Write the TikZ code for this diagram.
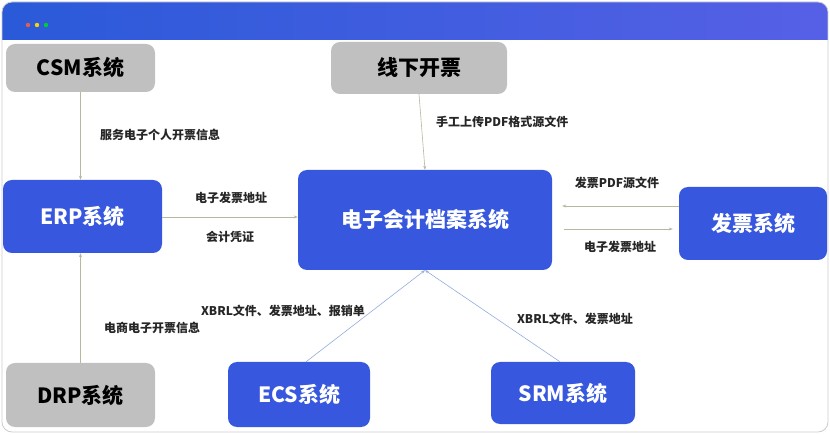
\documentclass[tikz,border=0pt]{standalone}
\usepackage{fontspec}
\newfontfamily\cjk{Noto Sans CJK SC}
\usepackage{xcolor}
\usetikzlibrary{arrows.meta, positioning}

\definecolor{sysblue}{HTML}{3758DE}
\definecolor{sysgray}{HTML}{C0C0C0}
\definecolor{flowline}{HTML}{B8B89E}
\definecolor{bluelink}{HTML}{94AEDD}
\definecolor{barleft}{HTML}{2A5AD8}
\definecolor{barright}{HTML}{5660E6}

\begin{document}
\begin{tikzpicture}[x=1pt, y=-1pt,
  bluebox/.style={rectangle, rounded corners=9pt, fill=sysblue, text=white,
    font=\cjk\bfseries\fontsize{21}{24}\selectfont, inner sep=0pt},
  graybox/.style={rectangle, rounded corners=9pt, fill=sysgray, text=black,
    font=\cjk\bfseries\fontsize{21}{24}\selectfont, inner sep=0pt},
  lbl/.style={font=\cjk\bfseries\fontsize{12}{14}\selectfont, text=black!85, inner sep=0pt},
  flow/.style={draw=flowline, semithick, -{Stealth[length=4pt, width=3pt]}},
  bflow/.style={draw=bluelink, semithick, -{Stealth[length=4pt, width=3pt]}}
]
  \useasboundingbox (0,0) rectangle (830,435);

  % Window frame with header bar
  \begin{scope}
    \clip[rounded corners=10pt] (2,2) rectangle (828,432);
    \fill[white] (2,2) rectangle (828,432);
    \shade[left color=barleft, right color=barright] (2,2) rectangle (828,40);
  \end{scope}
  \draw[black!20, thick, rounded corners=10pt] (2,2) rectangle (828,432);
  \fill[red!60!brown!80] (28,25) circle (2.2pt);
  \fill[yellow!70!orange] (37,25) circle (2.2pt);
  \fill[green!60!teal] (46,25) circle (2.2pt);

  % Systems
  \node[graybox, minimum width=149pt, minimum height=48pt] (csm) at (80.5,68) {CSM系统};
  \node[graybox, minimum width=176pt, minimum height=52pt] (offline) at (419,68) {线下开票};
  \node[bluebox, minimum width=159pt, minimum height=73pt] (erp) at (82.5,216.5) {ERP系统};
  \node[bluebox, minimum width=254pt, minimum height=100pt] (archive) at (425,220) {电子会计档案系统};
  \node[bluebox, minimum width=148pt, minimum height=73pt] (invoice) at (753,223.5) {发票系统};
  \node[graybox, minimum width=149pt, minimum height=64pt] (drp) at (80.5,395) {DRP系统};
  \node[bluebox, minimum width=142pt, minimum height=65pt] (ecs) at (299,394.5) {ECS系统};
  \node[bluebox, minimum width=144pt, minimum height=62pt] (srm) at (563,393) {SRM系统};

  % Connectors
  \draw[flow] (csm.south) -- (csm.south |- erp.north);
  \draw[flow] (drp.north) -- (drp.north |- erp.south);
  \draw[flow] (erp.east |- 0,217) -- (archive.west |- 0,217);
  \draw[flow] (offline.south) -- (archive.north);
  \draw[flow] (invoice.west |- 0,206) -- ([xshift=10pt]archive.east |- 0,206);
  \draw[flow] ([xshift=12pt]archive.east |- 0,229) -- ([xshift=-6pt]invoice.west |- 0,229);
  \draw[bflow] ([xshift=7pt]ecs.north) -- (archive.south);
  \draw[bflow] ([xshift=-3pt]srm.north) -- (archive.south);

  % Labels
  \node[lbl, anchor=west] (l1) at (100,135) {服务电子个人开票信息};
  \node[lbl, anchor=west] (l2) at (104,328) {电商电子开票信息};
  \node[lbl] (l3) at (231,198) {电子发票地址};
  \node[lbl] (l4) at (230,237) {会计凭证};
  \node[lbl, anchor=west] (l5) at (436,122) {手工上传PDF格式源文件};
  \node[lbl] (l6) at (617,183) {发票PDF源文件};
  \node[lbl] (l7) at (620,247) {电子发票地址};
  \node[lbl] (l8) at (283,311) {XBRL文件、发票地址、报销单};
  \node[lbl] (l9) at (575,319) {XBRL文件、发票地址};
\end{tikzpicture}
\end{document}
